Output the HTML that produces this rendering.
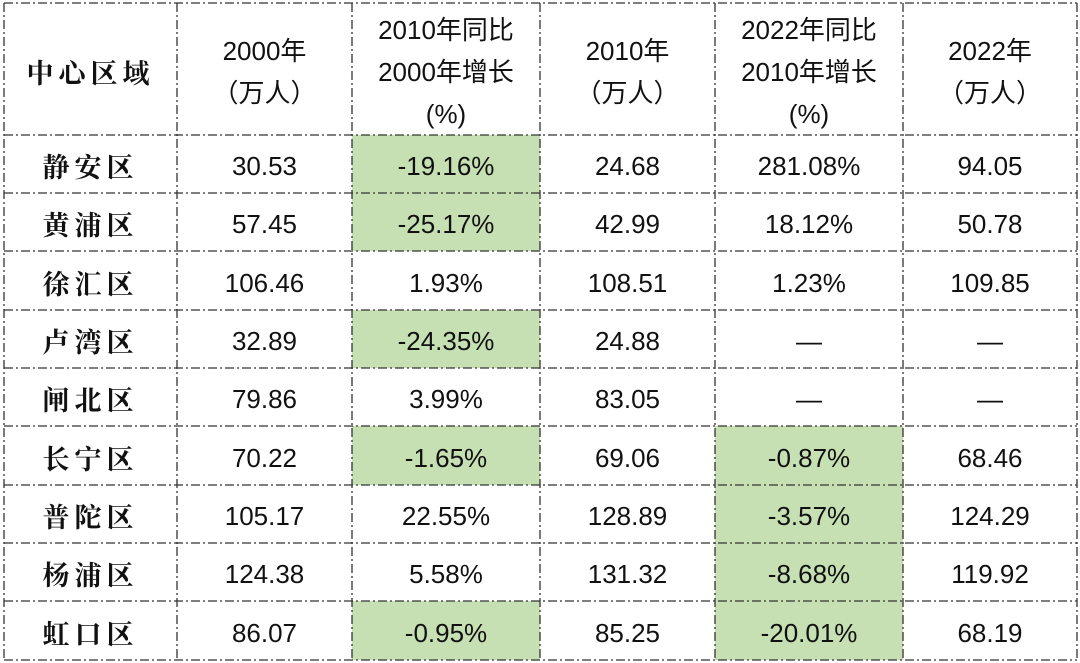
<!DOCTYPE html>
<html><head><meta charset="utf-8"><style>
body{margin:0;width:1080px;height:663px;background:#fff;position:relative;overflow:hidden;font-family:"Liberation Sans","Noto Sans CJK SC",sans-serif;color:#111}
.c{position:absolute;display:flex;align-items:center;justify-content:center;text-align:center;font-size:26px;line-height:32px;padding-top:4px;box-sizing:border-box}
.h{line-height:42px;font-size:26px;padding-top:6px}
.g{background:#c6e0b4}
.z{font-family:"Noto Serif CJK SC","Noto Sans CJK SC",serif;letter-spacing:5px;font-weight:bold;font-size:27px}
</style></head><body>
<svg width="1080" height="663" style="position:absolute;left:0;top:0;z-index:2">
<g stroke="#333" stroke-width="1.3" stroke-dasharray="9,3,2,3" fill="none" id="g"></g>
</svg>
<div id="t"></div>
<script>
var xs=[4,177,352,540,715,903,1077];
var ys=[3,135,193,251,310,368,426,485,543,601,660];
var g=document.getElementById('g'),s='';
xs.forEach(x=>s+=`<line x1="${x}" y1="3" x2="${x}" y2="660"/>`);
ys.forEach(y=>s+=`<line x1="4" y1="${y}" x2="1077" y2="${y}"/>`);
g.innerHTML=s;
var head=['<span class="z">中心区域</span>','2000年<br>（万人）','2010年同比<br>2000年增长<br>(%)','2010年<br>（万人）','2022年同比<br>2010年增长<br>(%)','2022年<br>（万人）'];
var rows=[['静安区','30.53','-19.16%','24.68','281.08%','94.05'],
['黄浦区','57.45','-25.17%','42.99','18.12%','50.78'],
['徐汇区','106.46','1.93%','108.51','1.23%','109.85'],
['卢湾区','32.89','-24.35%','24.88','—','—'],
['闸北区','79.86','3.99%','83.05','—','—'],
['长宁区','70.22','-1.65%','69.06','-0.87%','68.46'],
['普陀区','105.17','22.55%','128.89','-3.57%','124.29'],
['杨浦区','124.38','5.58%','131.32','-8.68%','119.92'],
['虹口区','86.07','-0.95%','85.25','-20.01%','68.19']];
var h='';
function cell(i,r,txt,cls){h+=`<div class="c ${cls||''}" style="left:${xs[i]}px;top:${ys[r]}px;width:${xs[i+1]-xs[i]}px;height:${ys[r+1]-ys[r]}px">${txt}</div>`;}
head.forEach((t,i)=>cell(i,0,t,'h'));
rows.forEach((row,r)=>row.forEach((t,i)=>{var cls='';if(i==0)cls='z';if((i==2||i==4)&&t[0]=='-')cls='g';cell(i,r+1,t,cls);}));
document.getElementById('t').innerHTML=h;
</script>
</body></html>
